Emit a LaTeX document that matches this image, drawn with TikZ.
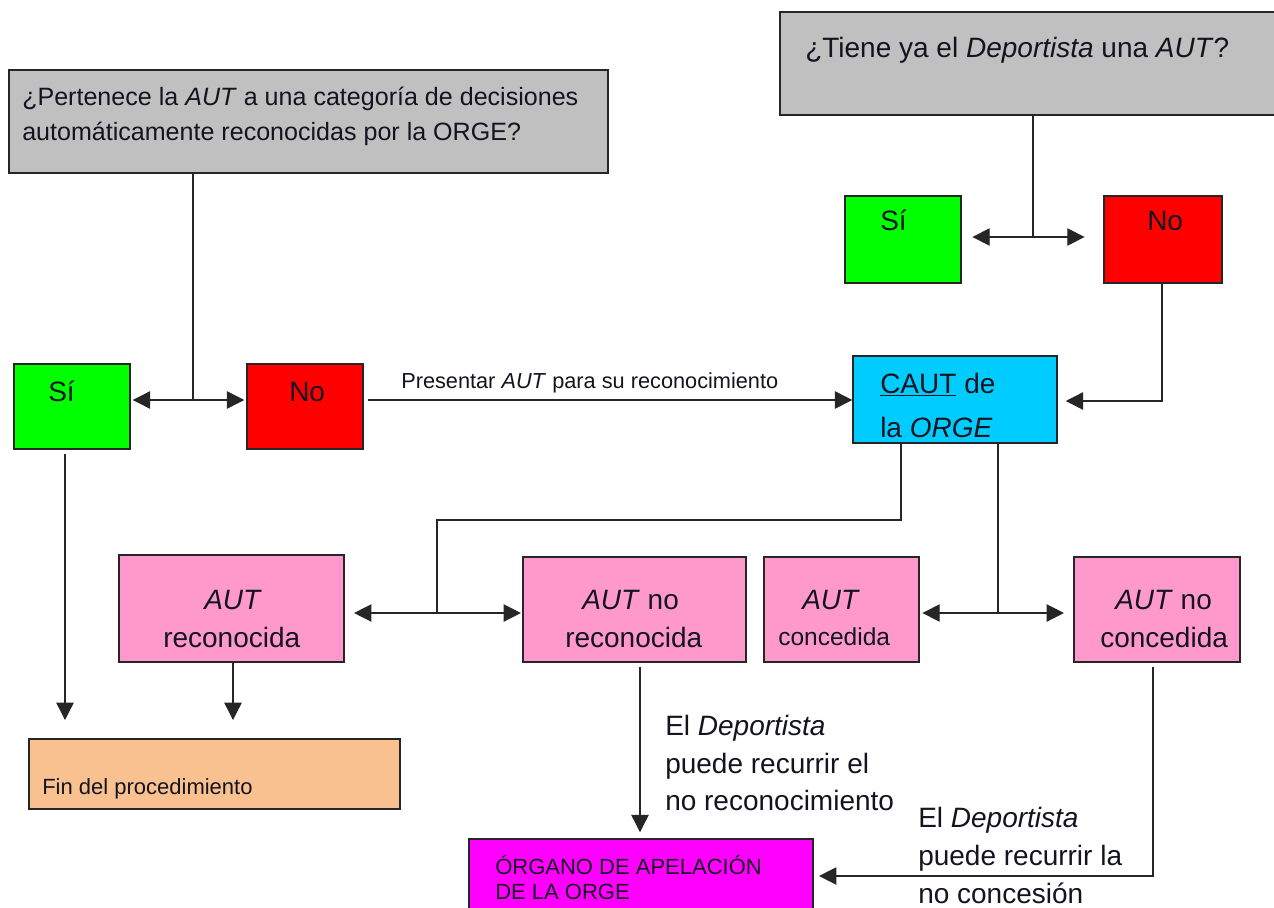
\documentclass[tikz,border=0pt]{standalone}
\usepackage{fontspec}
\setmainfont{Liberation Sans}
\usetikzlibrary{arrows.meta,fit}
\definecolor{gbox}{HTML}{C0C0C0}
\definecolor{gsi}{HTML}{00FF00}
\definecolor{rno}{HTML}{FF0000}
\definecolor{pinkb}{HTML}{FF99CC}
\definecolor{cyanb}{HTML}{00CCFF}
\definecolor{peach}{HTML}{F8C18F}
\definecolor{mag}{HTML}{FF00FF}
\definecolor{ink}{HTML}{141420}
\begin{document}
\begin{tikzpicture}[x=0.75pt,y=-0.75pt,
  box/.style={draw=black!85, line width=1.1pt, inner sep=0pt},
  txt/.style={anchor=base west, inner sep=0pt, text=ink},
  big/.style={font=\fontsize{21pt}{25pt}\selectfont},
  mid/.style={font=\fontsize{18.8pt}{22pt}\selectfont},
  sml/.style={font=\fontsize{16.5pt}{19pt}\selectfont},
  ln/.style={line width=1pt, draw=black!85},
  arr/.style={ln, -{Triangle[length=13pt,width=13pt]}}
]
\useasboundingbox[fill=white] (0,0) rectangle (1274,907);

% boxes
\node[box, fill=gbox, fit={(9,70) (608,173)}] (q1) {};
\node[box, fill=gbox, fit={(780,12) (1290,115)}] (q2) {};
\node[box, fill=gsi, fit={(14,364) (130,449)}] (si1) {};
\node[box, fill=rno, fit={(247,364) (363,449)}] (no1) {};
\node[box, fill=gsi, fit={(845,196) (961,283)}] (si2) {};
\node[box, fill=rno, fit={(1104,196) (1222,283)}] (no2) {};
\node[box, fill=cyanb, fit={(853,356) (1057,443)}] (caut) {};
\node[box, fill=pinkb, fit={(119,555) (344,662)}] (rec) {};
\node[box, fill=pinkb, fit={(523,557) (746,662)}] (norec) {};
\node[box, fill=pinkb, fit={(764,557) (919,662)}] (conc) {};
\node[box, fill=pinkb, fit={(1074,557) (1240,662)}] (noconc) {};
\node[box, fill=peach, fit={(29,739) (400,809)}] (fin) {};
\node[box, fill=mag, fit={(469,839) (813,925)}] (org) {};

% texts
\node[txt, mid] (q1a) at (22,105) {¿Pertenece la \textit{AUT} a una categoría de decisiones};
\node[txt, mid] (q1b) at (22,140) {automáticamente reconocidas por la ORGE?};
\node[txt, big] (q2a) at (805,57) {¿Tiene ya el \textit{Deportista} una \textit{AUT}?};
\node[txt, big] (si2t) at (880,230) {Sí};
\node[txt, big] (no2t) at (1147,230) {No};
\node[txt, big] (si1t) at (48,401) {Sí};
\node[txt, big] (no1t) at (289,401) {No};
\node[txt, font=\fontsize{16.3pt}{19pt}\selectfont] (pres) at (401,388) {Presentar \textit{AUT} para su reconocimiento};
\node[txt, big] (caut1) at (880,393) {\underline{CAUT} de};
\node[txt, big] (caut2) at (880,437) {la \textit{ORGE}};
\node[txt, big] (rec1) at (204,609) {\textit{AUT}};
\node[txt, big] (rec2) at (163,647) {reconocida};
\node[txt, big] (norec1) at (582,609) {\textit{AUT} no};
\node[txt, big] (norec2) at (565,647) {reconocida};
\node[txt, big] (conc1) at (802,609) {\textit{AUT}};
\node[txt, font=\fontsize{18.4pt}{22pt}\selectfont] (conc2) at (778,645) {concedida};
\node[txt, big] (noconc1) at (1115,609) {\textit{AUT} no};
\node[txt, big] (noconc2) at (1100,647) {concedida};
\node[txt, sml] (fint) at (42,794) {Fin del procedimiento};
\node[txt, sml] (org1) at (495,874) {ÓRGANO DE APELACIÓN};
\node[txt, sml] (org2) at (495,899) {DE LA ORGE};
\node[txt, big] (la1) at (665,735) {El \textit{Deportista}};
\node[txt, big] (la2) at (665,773) {puede recurrir el};
\node[txt, big] (la3) at (665,810) {no reconocimiento};
\node[txt, big] (lb1) at (918,827) {El \textit{Deportista}};
\node[txt, big] (lb2) at (918,865) {puede recurrir la};
\node[txt, big] (lb3) at (918,903) {no concesión};

% junctions and free ends
\coordinate (j1) at (193,400);
\coordinate (j2) at (1033,237);
\coordinate (k1) at (1162,401);
\coordinate (b1) at (901,520);
\coordinate (j3) at (437,613);
\coordinate (j4) at (998,613);
\coordinate (e1) at (65,720);
\coordinate (e2) at (233,720);
\coordinate (c640) at (640,700);
\coordinate (k2) at (1153,876);

% connectors
\draw[ln] (q1.south -| j1) -- (j1);
\draw[arr, shorten >=1.5pt] (j1) -- (j1 -| si1.east);
\draw[arr, shorten >=1.5pt] (j1) -- (j1 -| no1.west);
\draw[arr, shorten <=3pt] (no1.east |- j1) -- (caut.west |- j1);

\draw[ln] (q2.south -| j2) -- (j2);
\draw[arr, shorten >=8pt] (j2) -- (j2 -| si2.east);
\draw[arr, shorten >=14pt] (j2) -- (j2 -| no2.west);
\draw[arr, shorten >=6pt] (no2.south -| k1) |- (caut.east |- k1);

\draw[ln] (caut.south -| b1) -- (b1) -| (j3);
\draw[arr, shorten >=7pt] (j3) -- (j3 -| rec.east);
\draw[arr, shorten >=1pt] (j3) -- (j3 -| norec.west);
\draw[ln] (caut.south -| j4) -- (j4);
\draw[arr, shorten >=2pt] (j4) -- (j4 -| conc.east);
\draw[arr, shorten >=7pt] (j4) -- (j4 -| noconc.west);

\draw[arr, shorten <=3pt] (si1.south -| e1) -- (e1);
\draw[arr] (rec.south -| e2) -- (e2);
\draw[arr, shorten <=3pt, shorten >=4.5pt] (norec.south -| c640) -- (org.north -| c640);
\draw[arr, shorten <=3.5pt, shorten >=4pt] (noconc.south -| k2) |- (org.east |- k2);
\end{tikzpicture}
\end{document}
